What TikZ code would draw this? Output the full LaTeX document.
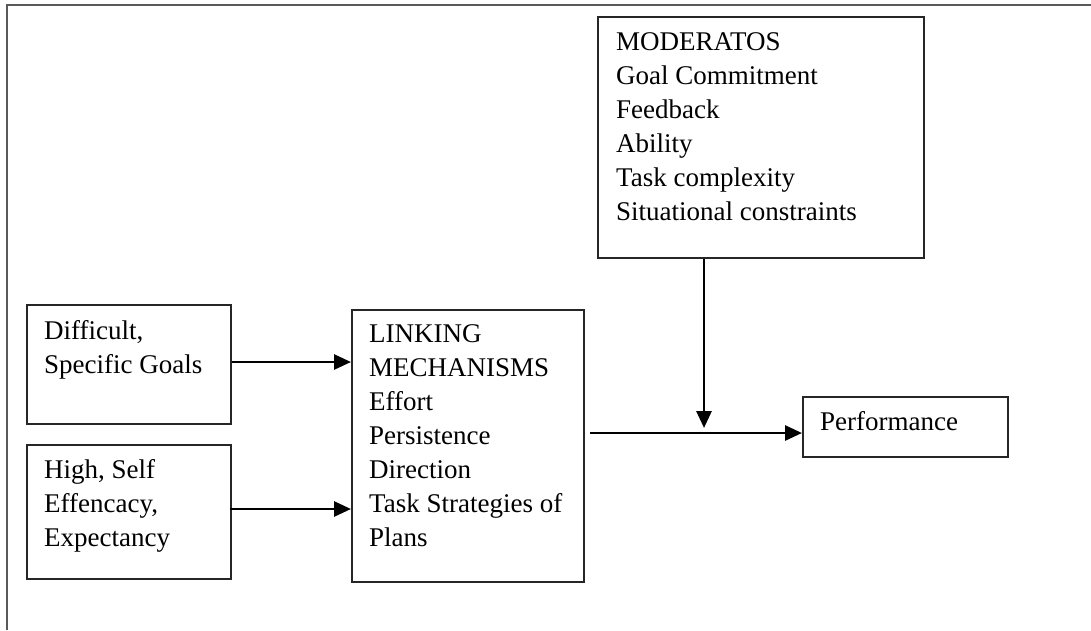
\documentclass[tikz,border=0pt]{standalone}
\usepackage{fontspec}
\setmainfont{Liberation Serif}
\usetikzlibrary{arrows.meta}
\begin{document}
\begin{tikzpicture}[x=1pt,y=-1pt,
  box/.style={draw=black!85,line width=1.9pt,rectangle,inner sep=0pt,anchor=north west},
  txt/.style={anchor=base west,inner sep=0pt,font=\fontsize{27}{34}\selectfont},
  arr/.style={line width=2.8pt,-{Triangle[length=17pt,width=15pt]}},
  frame/.style={draw=black!65,line width=2.6pt}]
\useasboundingbox (0,0) rectangle (1091,630);
\draw[frame] (7,630) -- (7,5) -- (1091,5);
% boxes
\node[box,minimum width=204pt,minimum height=119pt] (a) at (26,304) {};
\node[box,minimum width=204pt,minimum height=134pt] (b) at (26,444) {};
\node[box,minimum width=232pt,minimum height=272pt] (c) at (351,309) {};
\node[box,minimum width=326pt,minimum height=241pt] (d) at (597,16) {};
\node[box,minimum width=205pt,minimum height=60pt] (e) at (802,396) {};
% texts
\node[txt] (at) at (44,339) {\parbox[t]{190pt}{Difficult,\\Specific Goals}};
\node[txt] (bt) at (44,478) {\parbox[t]{190pt}{High, Self\\Effencacy,\\Expectancy}};
\node[txt] (ct) at (369,342) {\parbox[t]{215pt}{LINKING\\MECHANISMS\\Effort\\Persistence\\Direction\\Task Strategies of\\Plans}};
\node[txt] (dt) at (616,50) {\parbox[t]{300pt}{MODERATOS\\Goal Commitment\\Feedback\\Ability\\Task complexity\\Situational constraints}};
\node[txt] (et) at (820,430) {Performance};
% connectors
\coordinate (j) at (704,433);
\draw[arr] (a.east |- 0,362) -- (c.west |- 0,362);
\draw[arr] ([xshift=-2pt]b.east |- 0,509) -- (c.west |- 0,509);
\draw[arr] ([xshift=5pt]c.east |- j) -- (e.west |- j);
\draw[arr,shorten >=5pt] (d.south -| j) -- (j);
\end{tikzpicture}
\end{document}
